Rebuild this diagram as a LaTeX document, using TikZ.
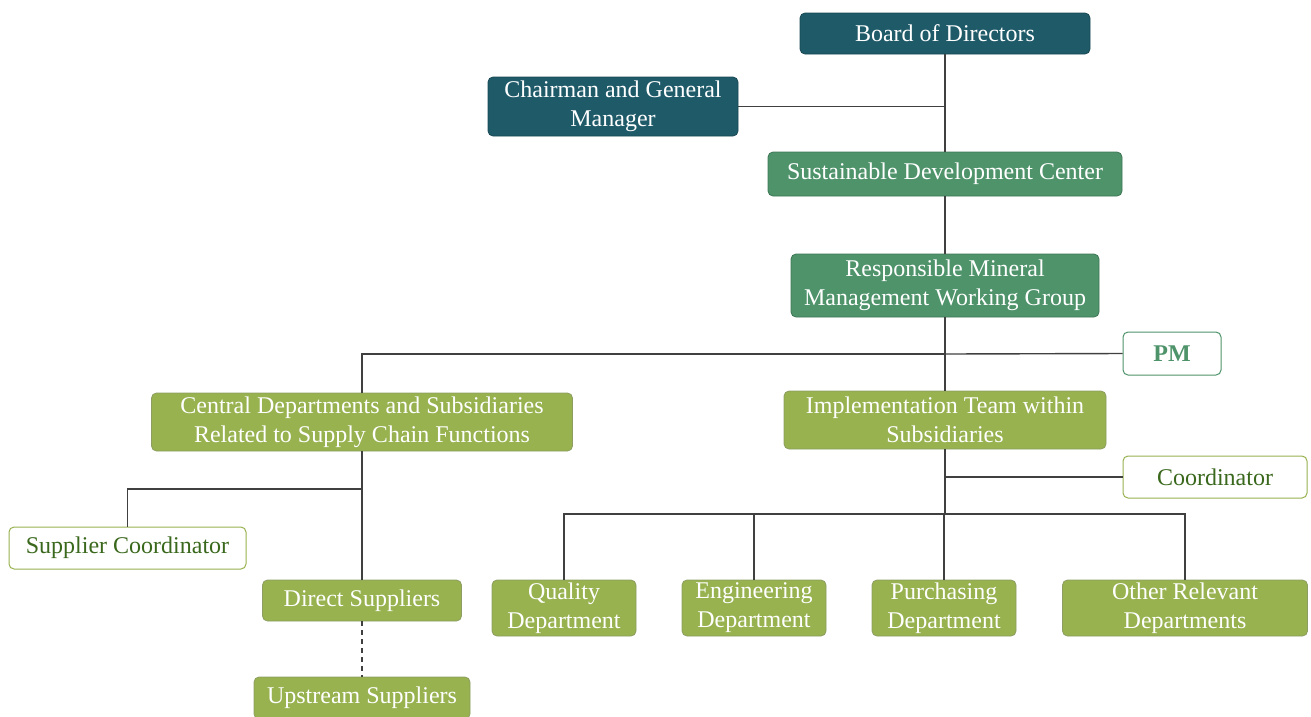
\documentclass[tikz,border=0pt]{standalone}
\usepackage{fontspec}
\setmainfont{Liberation Serif}
\definecolor{dteal}{HTML}{1F5A69}
\definecolor{mgreen}{HTML}{4E936A}
\definecolor{olivec}{HTML}{97B24F}
\definecolor{dgreen}{HTML}{3A681C}
\definecolor{lineg}{HTML}{404040}
\tikzset{
  box/.style={rounded corners=5pt, inner sep=0pt, align=center, text=white,
    font=\fontsize{24}{29}\selectfont, line width=0.8pt},
  tealbox/.style={box, fill=dteal, draw=dteal!80!black},
  greenbox/.style={box, fill=mgreen, draw=mgreen!80!black},
  olivebox/.style={box, fill=olivec, draw=olivec!60!gray},
  pmbox/.style={box, fill=white, draw=mgreen, text=mgreen, line width=1pt},
  coordbox/.style={box, fill=white, draw=olivec, text=dgreen, line width=1pt},
  conn/.style={draw=lineg, line width=1.4pt},
}
\begin{document}
\begin{tikzpicture}[x=1pt,y=-1pt]
\useasboundingbox (0,0) rectangle (1311,716);
\node[tealbox, minimum width=290, minimum height=41] (board) at (945,33.5) {Board of Directors};
\node[tealbox, minimum width=250, minimum height=59] (chair) at (613,106.5) {Chairman and General\\Manager};
\node[greenbox, minimum width=354, minimum height=44] (sdc) at (945,174) {Sustainable Development Center};
\node[greenbox, minimum width=308, minimum height=63] (rmw) at (945,285.5) {Responsible Mineral\\Management Working Group};
\node[pmbox, minimum width=98, minimum height=43] (pm) at (1172,353.5) {\textbf{PM}};
\node[olivebox, minimum width=421, minimum height=58] (central) at (362,422) {Central Departments and Subsidiaries\\Related to Supply Chain Functions};
\node[olivebox, minimum width=322, minimum height=58] (impl) at (945,420) {Implementation Team within\\Subsidiaries};
\node[coordbox, minimum width=184, minimum height=42] (coord) at (1215,477) {Coordinator};
\node[coordbox, minimum width=237, minimum height=42] (supc) at (127.5,548) {Supplier Coordinator};
\node[olivebox, minimum width=199, minimum height=41] (direct) at (362,600.5) {Direct Suppliers};
\node[olivebox, minimum width=216, minimum height=42] (up) at (362,698) {Upstream Suppliers};
\node[olivebox, minimum width=144, minimum height=56] (qual) at (564,608) {Quality\\Department};
\node[olivebox, minimum width=144, minimum height=56] (eng) at (754,608) {Engineering\\Department};
\node[olivebox, minimum width=144, minimum height=56] (pur) at (944,608) {Purchasing\\Department};
\node[olivebox, minimum width=245, minimum height=56] (oth) at (1185,608) {Other Relevant\\Departments};
\coordinate (j0) at (945,106.5);
\coordinate (j1) at (945,354);
\coordinate (j2) at (945,477);
\coordinate (j3) at (945,514);
\coordinate (j4) at (362,489);
\draw[conn] (board.south) -- (sdc.north);
\draw[conn] (chair.east) -- (j0);
\draw[conn] (sdc.south) -- (rmw.north);
\draw[conn] (rmw.south) -- (impl.north);
\draw[conn] (j1) -| (central.north);
\draw[conn] (j1) -- (pm.west);
\draw[conn] (impl.south) -- (j3);
\draw[conn] (j2) -- (coord.west);
\draw[conn] (j3) -| (qual.north);
\draw[conn] (j3) -| (eng.north);
\draw[conn] (j3) -| (pur.north);
\draw[conn] (j3) -| (oth.north);
\draw[conn] (central.south) -- (direct.north);
\draw[conn] (j4) -| (supc.north);
\draw[conn, dash pattern=on 5pt off 4pt] (direct.south) -- (up.north);
\end{tikzpicture}
\end{document}
